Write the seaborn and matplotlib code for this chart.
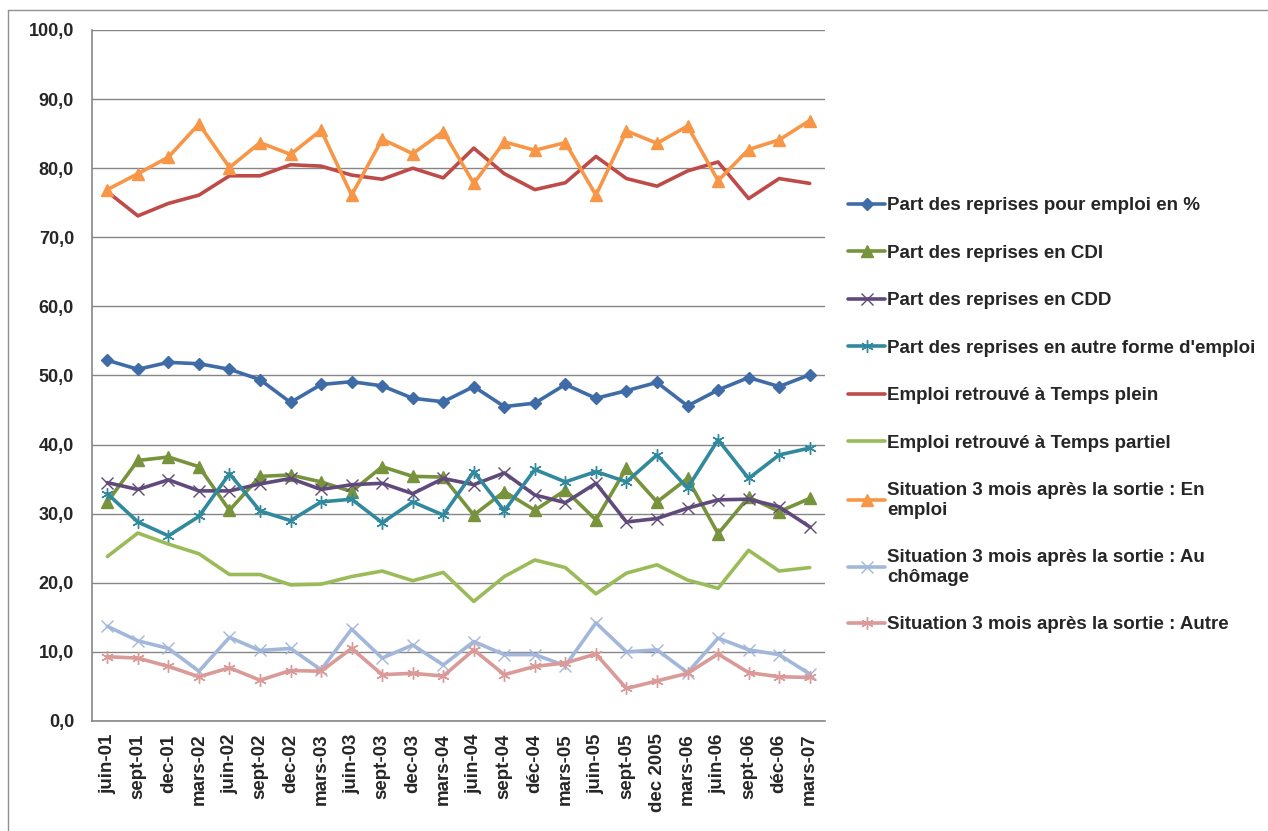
import pandas as pd
import seaborn as sns
import matplotlib.pyplot as plt
from matplotlib.ticker import FuncFormatter, FixedLocator
from matplotlib.lines import Line2D

periods = ["juin-01", "sept-01", "dec-01", "mars-02", "juin-02", "sept-02", "dec-02", "mars-03",
           "juin-03", "sept-03", "dec-03", "mars-04", "juin-04", "sept-04", "déc-04", "mars-05",
           "juin-05", "sept-05", "dec 2005", "mars-06", "juin-06", "sept-06", "déc-06", "mars-07"]

reprises_emploi = [52.2, 50.9, 51.9, 51.7, 50.9, 49.4, 46.1, 48.7, 49.1, 48.5, 46.7, 46.2,
                   48.4, 45.5, 46.0, 48.7, 46.7, 47.8, 49.0, 45.6, 47.9, 49.7, 48.4, 50.1]
reprises_cdi = [31.7, 37.7, 38.2, 36.8, 30.5, 35.4, 35.6, 34.6, 33.2, 36.8, 35.4, 35.3,
                29.8, 33.2, 30.5, 33.4, 29.1, 36.6, 31.7, 35.1, 27.1, 32.4, 30.3, 32.2]
reprises_cdd = [34.5, 33.5, 34.9, 33.3, 33.3, 34.3, 35.1, 33.5, 34.2, 34.4, 32.9, 35.1,
                34.2, 35.9, 32.7, 31.6, 34.4, 28.8, 29.3, 30.8, 32.0, 32.1, 31.0, 28.1]
reprises_autre = [32.9, 28.8, 26.8, 29.6, 35.8, 30.4, 29.0, 31.7, 32.1, 28.7, 31.7, 29.8,
                  36.1, 30.4, 36.4, 34.6, 36.1, 34.6, 38.5, 33.7, 40.7, 35.1, 38.5, 39.5]
temps_plein = [76.6, 73.1, 74.9, 76.1, 78.9, 78.9, 80.5, 80.3, 79.0, 78.4, 80.0, 78.6,
               82.9, 79.2, 76.9, 77.9, 81.7, 78.5, 77.4, 79.6, 80.9, 75.6, 78.5, 77.8]
temps_partiel = [23.8, 27.2, 25.6, 24.2, 21.2, 21.2, 19.7, 19.8, 20.9, 21.7, 20.3, 21.5,
                 17.3, 20.9, 23.3, 22.2, 18.4, 21.4, 22.6, 20.4, 19.2, 24.7, 21.7, 22.2]
sortie_emploi = [76.9, 79.2, 81.6, 86.4, 80.1, 83.7, 82.0, 85.5, 76.1, 84.2, 82.1, 85.3,
                 77.8, 83.8, 82.6, 83.7, 76.1, 85.4, 83.6, 86.1, 78.2, 82.7, 84.1, 86.9]
sortie_chomage = [13.7, 11.6, 10.5, 7.2, 12.1, 10.2, 10.5, 7.4, 13.3, 9.1, 11.0, 8.1,
                  11.5, 9.6, 9.6, 8.0, 14.2, 10.0, 10.3, 7.0, 12.0, 10.3, 9.6, 6.8]
sortie_autre = [9.3, 9.1, 7.9, 6.4, 7.7, 5.9, 7.3, 7.2, 10.5, 6.7, 6.9, 6.5,
                10.3, 6.7, 7.9, 8.4, 9.7, 4.7, 5.8, 6.9, 9.7, 7.0, 6.4, 6.3]

labels = ["Part des reprises pour emploi en %",
          "Part des reprises en CDI",
          "Part des reprises en CDD",
          "Part des reprises en autre forme d'emploi",
          "Emploi retrouvé à Temps plein",
          "Emploi retrouvé à Temps partiel",
          "Situation 3 mois après la sortie : En\nemploi",
          "Situation 3 mois après la sortie : Au\nchômage",
          "Situation 3 mois après la sortie : Autre"]
series = [reprises_emploi, reprises_cdi, reprises_cdd, reprises_autre, temps_plein,
          temps_partiel, sortie_emploi, sortie_chomage, sortie_autre]
colors = ["#3F6CA6", "#77933C", "#604A7B", "#31899E", "#BE4B48",
          "#9BBB59", "#F79646", "#A3B7DB", "#D99A98"]
star = (6, 2, 0)
markers = ["D", "^", "x", star, None, None, "^", "x", star]
msizes = [6, 8, 8, 9, 0, 0, 9, 8, 9]

sns.set_style("white")
plt.rcParams['font.family'] = ['Liberation Sans', 'DejaVu Sans']
plt.rcParams['font.weight'] = 'bold'

fig = plt.figure(figsize=(12.68, 8.31), dpi=100)
ax = fig.add_axes([0.0726, 0.1324, 0.578, 0.8315])

x = list(range(len(periods)))
for vals, lab, col, mk, ms in zip(series, labels, colors, markers, msizes):
    df = pd.DataFrame({"x": x, "y": vals})
    kw = dict(marker=mk, markersize=ms, markeredgecolor=col, markerfacecolor=col,
              markeredgewidth=1.0) if mk is not None else {}
    sns.lineplot(data=df, x="x", y="y", ax=ax, color=col, lw=2.6, label=lab, **kw)

ax.set_xlim(-0.5, len(periods) - 0.5)
ax.set_ylim(0, 100)
ax.set_yticks(range(0, 101, 10))
ax.yaxis.set_major_formatter(FuncFormatter(lambda v, p: f"{v:.1f}".replace(".", ",")))
ax.set_xticks(x)
ax.set_xticklabels(periods, rotation=90, fontsize=13.5, fontweight='bold')
ax.xaxis.set_minor_locator(FixedLocator([i - 0.5 for i in range(len(periods) + 1)]))
ax.tick_params(axis='x', which='major', length=0, pad=9)
ax.tick_params(axis='x', which='minor', length=7, color='#868686', width=1, direction='out')
ax.tick_params(axis='y', length=7, color='#868686', width=1, direction='out',
               labelsize=13, pad=6)
for t in ax.get_yticklabels():
    t.set_fontweight('bold')
ax.grid(axis='y', color='#868686', lw=1)
ax.grid(axis='x', visible=False)
ax.set_axisbelow(True)
ax.set_xlabel("")
ax.set_ylabel("")
for s in ["top", "right"]:
    ax.spines[s].set_visible(False)
for s in ["left", "bottom"]:
    ax.spines[s].set_color('#868686')
    ax.spines[s].set_linewidth(1.2)

ax.legend(loc='upper left', bbox_to_anchor=(1.021, 0.769), frameon=False,
          prop={'size': 13.5, 'weight': 'bold'}, handlelength=2.0, handletextpad=0.1,
          labelspacing=1.62, borderaxespad=0)

# outer frame of the original chart object (top and left edges only)
fig.add_artist(Line2D([8 / 1268, 1], [1 - 10 / 831, 1 - 10 / 831], transform=fig.transFigure,
                      color='#909090', lw=1))
fig.add_artist(Line2D([8 / 1268, 8 / 1268], [0, 1 - 10 / 831], transform=fig.transFigure,
                      color='#909090', lw=1))

fig.savefig("out.png", dpi=100)
